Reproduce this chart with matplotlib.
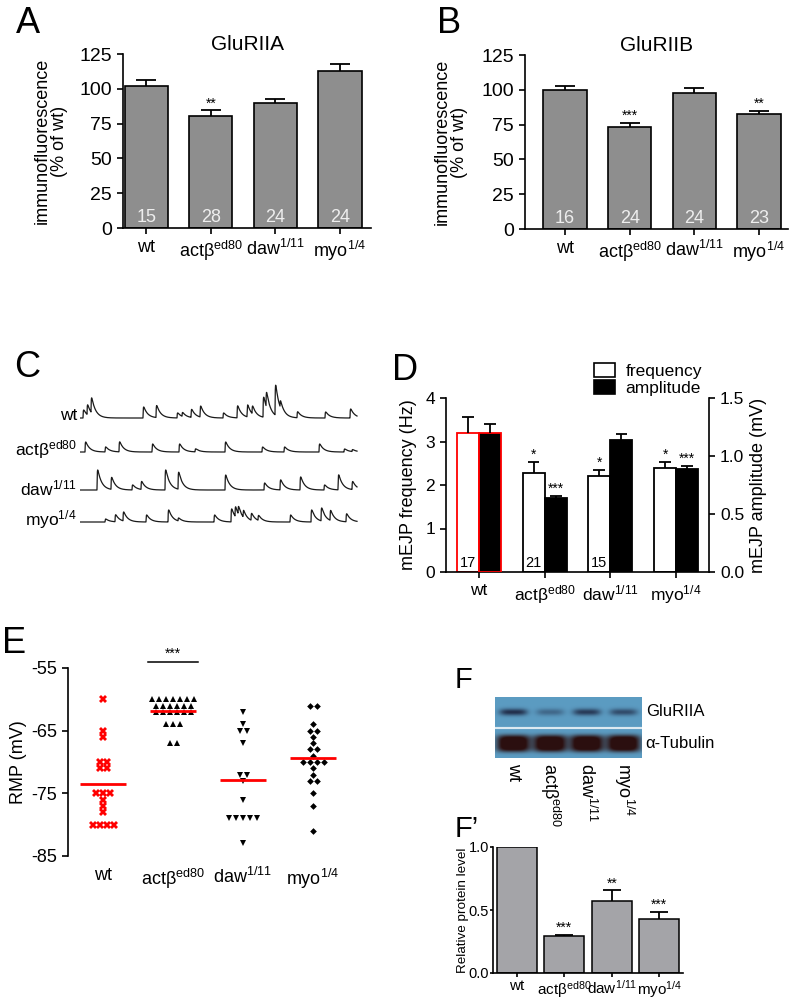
import matplotlib
matplotlib.use("Agg")
import matplotlib.pyplot as plt
import numpy as np
from matplotlib.patches import Patch

plt.rcParams['font.family'] = ['Liberation Sans', 'DejaVu Sans']
plt.rcParams['mathtext.default'] = 'regular'
plt.rcParams['axes.unicode_minus'] = False
plt.rcParams['axes.linewidth'] = 1.2
plt.rcParams['xtick.major.width'] = 1.2
plt.rcParams['ytick.major.width'] = 1.2
plt.rcParams['xtick.major.size'] = 4.5
plt.rcParams['ytick.major.size'] = 4.5

W, H = 796, 1001

# ---- data ----
genotypes = ['wt', 'actβ$^{ed80}$', 'daw$^{1/11}$', 'myo$^{1/4}$']

# A / B  immunofluorescence (% of wt)
glur_a = [102, 80.5, 89.5, 113]
glur_a_err = [4, 4, 3.5, 5]
glur_a_n = [15, 28, 24, 24]
glur_a_sig = ['', '**', '', '']

glur_b = [99.5, 73, 97.5, 82.5]
glur_b_err = [3, 3, 3.5, 2.5]
glur_b_n = [16, 24, 24, 23]
glur_b_sig = ['', '***', '', '**']

# C  example traces: event times (a.u.) and amplitudes
wt_t = [3, 7, 11, 63, 76, 97, 102, 111, 120, 143, 157, 167, 172, 183, 186, 195, 200, 217, 245, 270]
wt_a = [8, 10, 15, 11, 12, 5, 4, 8, 11, 5, 12, 12, 8, 20, 15, 30, 7, 6, 6, 9]
act_t = [5, 25, 39, 72, 99, 115, 145, 182, 204, 239, 264, 272]
act_a = [10, 5, 10, 8, 8, 3, 10, 5, 5, 8, 3, 2]
daw_t = [17, 31, 52, 61, 85, 98, 145, 184, 200, 220, 244, 258, 272]
daw_a = [20, 12, 5, 8, 20, 17, 15, 7, 10, 13, 5, 15, 8]
myo_t = [25, 35, 43, 66, 88, 98, 134, 151, 155, 158, 163, 171, 178, 210, 231, 241, 250, 266]
myo_a = [3, 7, 9, 7, 12, 3, 7, 13, 10, 8, 7, 7, 5, 7, 12, 13, 10, 8]

# D  mEJP
freq = [3.2, 2.28, 2.21, 2.38]
freq_err = [0.37, 0.26, 0.13, 0.16]
freq_n = ['17', '21', '15', '']
freq_sig = ['', '*', '*', '*']
amp = [1.2, 0.64, 1.137, 0.888]
amp_err = [0.075, 0.016, 0.05, 0.026]
amp_sig = ['', '***', '', '***']

# E  RMP (mV)
rmp_wt = [-60, -65, -66, -70, -70, -71, -71, -75, -75, -75, -76, -77, -78, -80, -80, -80, -80]
rmp_act = [-60, -60, -60, -60, -60, -60, -60, -61, -61, -61, -61, -61, -61,
           -62, -62, -62, -62, -62, -62, -64, -64, -64, -67, -67]
rmp_daw = [-62, -64, -65, -65, -67, -72, -72, -73, -76, -79, -79, -79, -79, -79, -83]
rmp_myo = [-61, -61, -64, -65, -65, -66, -67, -68, -68, -69, -70, -70, -70, -70,
           -71, -72, -73, -73, -75, -77, -81]

# F  blot band intensities
glur_band = [0.95, 0.45, 0.85, 0.7]
tub_band = [1.0, 1.0, 1.0, 1.0]

# F'  relative protein level
prot = [1.0, 0.29, 0.57, 0.43]
prot_err = [0, 0.015, 0.085, 0.055]
prot_sig = ['', '***', '**', '***']


def px_axes(fig, x0, y0, x1, y1):
    return fig.add_axes([x0 / W, 1 - y1 / H, (x1 - x0) / W, (y1 - y0) / H])


def up_err(ax, x, y, e, cap, color='black'):
    y = np.asarray(y)
    e = np.asarray(e)
    ax.vlines(x, y, y + e, color=color, lw=1.3, zorder=3)
    ax.hlines(y + e, np.asarray(x) - cap, np.asarray(x) + cap, color=color, lw=1.3, zorder=3)


def stars(ax, x, top, sigs, size=10):
    for xi, t, s in zip(x, top, sigs):
        if s:
            ax.annotate(s, (xi, t), xytext=(0, 0), textcoords='offset points',
                        ha='center', va='bottom', fontsize=size)


def panel_label(fig, x, y, s, size=26):
    fig.text(x / W, 1 - y / H, s, fontsize=size, va='baseline', ha='left')


fig = plt.figure(figsize=(W / 100, H / 100), dpi=100)


def glur_panel(ax, vals, errs, ns, sigs, title, xlim, ylab_x):
    x = np.arange(len(vals))
    ax.bar(x, vals, width=0.67, color='#8e8e8e', edgecolor='black', linewidth=1.2, zorder=2)
    up_err(ax, x, vals, errs, 0.155)
    stars(ax, x, np.add(vals, errs), sigs)
    for xi, n in zip(x, ns):
        ax.text(xi, 7.5, str(n), ha='center', va='center', color='#eeeeee', fontsize=13, zorder=4)
    ax.set_ylim(0, 125)
    ax.set_yticks([0, 25, 50, 75, 100, 125])
    ax.set_xlim(*xlim)
    ax.set_xticks(x)
    ax.set_xticklabels(genotypes, fontsize=13)
    ax.tick_params(axis='y', labelsize=14)
    ax.set_title(title, fontsize=15, pad=2)
    ax.set_ylabel('immunofluorescence\n(% of wt)', fontsize=13, linespacing=1.0)
    ax.yaxis.set_label_coords(ylab_x, 0.5)
    ax.spines['top'].set_visible(False)
    ax.spines['right'].set_visible(False)


# ---- A ----
axA = px_axes(fig, 123, 54, 371, 228)
glur_panel(axA, glur_a, glur_a_err, glur_a_n, glur_a_sig, 'GluRIIA', (-0.36, 3.48), -0.222)
panel_label(fig, 16, 33, 'A')

# ---- B ----
axB = px_axes(fig, 525, 55, 788, 229)
glur_panel(axB, glur_b, glur_b_err, glur_b_n, glur_b_sig, 'GluRIIB', (-0.62, 3.45), -0.217)
panel_label(fig, 437, 33, 'B')

# ---- C ----
axC = px_axes(fig, 80, 380, 362, 535)
axC.set_xlim(0, 282)
axC.set_ylim(0, 155)
axC.axis('off')
t = np.linspace(0, 277, 2500)
tau, rise = 4.0, 0.25
kern_peak = np.max(np.exp(-t / tau) * (1 - np.exp(-t / rise)))


def trace(times, amps):
    y = np.zeros_like(t)
    for t0, a in zip(times, amps):
        d = t - t0
        m = d > 0
        y[m] += a * np.exp(-d[m] / tau) * (1 - np.exp(-d[m] / rise)) / kern_peak
    return y


rows = [(wt_t, wt_a), (act_t, act_a), (daw_t, daw_a), (myo_t, myo_a)]
baselines = [117, 83, 45, 13]
for (tt, aa), base, lab in zip(rows, baselines, genotypes):
    axC.plot(t, base + trace(tt, aa), color='#1a1a1a', lw=0.9)
    axC.text(-3, base + 2, lab, ha='right', va='center', fontsize=12.5)
panel_label(fig, 14, 377, 'C')

# ---- D ----
axD = px_axes(fig, 446, 398, 709, 572)
axD2 = axD.twinx()
x = np.arange(4)
w = 0.336
edge = ['red', 'black', 'black', 'black']
axD.bar(x - w / 2, freq, w, color='white', edgecolor=edge, linewidth=1.3, zorder=2)
up_err(axD, x - w / 2, freq, freq_err, 0.09)
stars(axD, x - w / 2, np.add(freq, freq_err), freq_sig, 10)
for xi, n in zip(x - w / 2, freq_n):
    if n:
        axD.text(xi, 0.2, n, ha='center', va='center', fontsize=10.5)
axD2.bar(x + w / 2, amp, w, color='black', edgecolor=edge, linewidth=1.3, zorder=2)
up_err(axD2, x + w / 2, amp, amp_err, 0.09)
stars(axD2, x + w / 2, np.add(amp, amp_err), amp_sig, 10)
axD.set_ylim(0, 4)
axD.set_yticks([0, 1, 2, 3, 4])
axD2.set_ylim(0, 1.5)
axD2.set_yticks([0, 0.5, 1.0, 1.5])
axD2.set_yticklabels(['0.0', '0.5', '1.0', '1.5'])
axD.set_xlim(-0.5, 3.5)
axD.set_xticks(x)
axD.set_xticklabels(genotypes, fontsize=12)
axD.tick_params(labelsize=12.5)
axD2.tick_params(labelsize=12.5)
axD.set_ylabel('mEJP frequency (Hz)', fontsize=13)
axD.yaxis.set_label_coords(-0.11, 0.5)
axD2.set_ylabel('mEJP amplitude (mV)', fontsize=13)
axD2.yaxis.set_label_coords(1.155, 0.5)
for a in (axD, axD2):
    a.spines['top'].set_visible(False)
axD.spines['right'].set_visible(False)
axD2.spines['left'].set_visible(False)
axD2.spines['bottom'].set_visible(False)
axD2.legend(handles=[Patch(facecolor='white', edgecolor='black', lw=1.2),
                     Patch(facecolor='black', edgecolor='black', lw=1.2)],
            labels=['frequency', 'amplitude'], loc='upper left',
            bbox_to_anchor=(594 / W, 1 - 363 / H), bbox_transform=fig.transFigure,
            frameon=False, fontsize=12.5, handlelength=1.2, handleheight=0.85,
            handletextpad=0.6, labelspacing=0.05, borderpad=0, borderaxespad=0)
panel_label(fig, 392, 380, 'D')

# ---- E ----
axE = px_axes(fig, 68, 668, 348, 856)
groups = [rmp_wt, rmp_act, rmp_daw, rmp_myo]
markers = [('X', 'red', 5.2), ('^', 'black', 4.8), ('v', 'black', 4.8), ('D', 'black', 3.4)]
for i, (vals, (mk, col, ms)) in enumerate(zip(groups, markers)):
    vals = np.asarray(vals)
    xs = np.zeros(len(vals), dtype=float)
    for v in np.unique(vals):
        idx = np.where(vals == v)[0]
        xs[idx] = (np.arange(len(idx)) - (len(idx) - 1) / 2) * 0.1
    axE.plot(i + xs, vals, linestyle='none', marker=mk, color=col, ms=ms,
             markeredgewidth=0, clip_on=False, zorder=3)
    axE.hlines(np.mean(vals), i - 0.335, i + 0.335, color='red', lw=2, zorder=4)
axE.plot([0.64, 1.36], [-54.1, -54.1], color='black', lw=1.1, clip_on=False)
axE.text(1.0, -53.9, '***', ha='center', va='bottom', fontsize=10)
axE.set_ylim(-85, -55)
axE.set_yticks([-55, -65, -75, -85])
axE.set_xlim(-0.5, 3.5)
axE.set_xticks(range(4))
axE.set_xticklabels(genotypes, fontsize=13)
axE.tick_params(axis='x', length=0, pad=8)
axE.tick_params(axis='y', labelsize=13)
axE.set_ylabel('RMP (mV)', fontsize=13)
axE.yaxis.set_label_coords(-0.146, 0.5)
for s in ('top', 'right', 'bottom'):
    axE.spines[s].set_visible(False)
panel_label(fig, 2, 653, 'E')

# ---- F blot ----
axF = px_axes(fig, 495, 697, 642, 758)
gx = np.linspace(-0.5, 3.5, 400)
gy = np.linspace(0, 61, 180)
XX, YY = np.meshgrid(gx, gy)
base = np.array([0.36, 0.61, 0.76])
img = np.ones(XX.shape + (3,)) * base
dark_top = np.zeros(XX.shape)
dark_bot = np.zeros(XX.shape)
for i in range(4):
    dark_top += glur_band[i] * np.exp(-(np.abs(XX - i) / 0.38) ** 4) * np.exp(-((YY - 46) / 3.4) ** 2)
    dark_bot += tub_band[i] * np.exp(-(np.abs(XX - i) / 0.46) ** 4) * np.exp(-(np.abs(YY - 14.5) / 8.5) ** 4)
dark_top = np.clip(dark_top, 0, 1)[..., None]
dark_bot = np.clip(dark_bot * 1.3, 0, 1)[..., None]
img = img * (1 - dark_top) + np.array([0.12, 0.16, 0.27]) * dark_top
img = img * (1 - dark_bot) + np.array([0.17, 0.06, 0.06]) * dark_bot
gap = (YY > 29) & (YY < 31)
img[gap] = [1, 1, 1]
axF.imshow(img, extent=(-0.5, 3.5, 0, 61), origin='lower', aspect='auto', interpolation='bilinear')
axF.set_xlim(-0.5, 3.5)
axF.set_ylim(0, 61)
axF.axis('off')
axF.text(3.6, 46, 'GluRIIA', ha='left', va='center', fontsize=12)
axF.text(3.6, 15, 'α-Tubulin', ha='left', va='center', fontsize=12)
for i, lab in enumerate(genotypes):
    axF.text(i, -5, lab, rotation=-90, ha='center', va='top', fontsize=13, clip_on=False)
panel_label(fig, 455, 688, 'F', size=21)

# ---- F' ----
axG = px_axes(fig, 493, 847, 683, 973)
x = np.arange(4)
axG.bar(x, prot, width=0.85, color='#a4a4a8', edgecolor='black', linewidth=1.1, zorder=2)
up_err(axG, x[1:], prot[1:], prot_err[1:], 0.19)
stars(axG, x, np.add(prot, prot_err), prot_sig, 10)
axG.set_ylim(0, 1.0)
axG.set_yticks([0, 0.5, 1.0])
axG.set_yticklabels(['0.0', '0.5', '1.0'])
axG.set_xlim(-0.5, 3.5)
axG.set_xticks(x)
axG.set_xticklabels(genotypes, fontsize=11)
axG.tick_params(axis='y', labelsize=10.5, length=2, pad=1)
axG.tick_params(axis='x', length=3, pad=1.5)
axG.set_ylabel('Relative protein level', fontsize=9.7)
axG.yaxis.set_label_coords(-0.125, 0.5)
axG.spines['top'].set_visible(False)
axG.spines['right'].set_visible(False)
panel_label(fig, 455, 837, 'F’', size=21)

fig.savefig('out.png', dpi=100)
